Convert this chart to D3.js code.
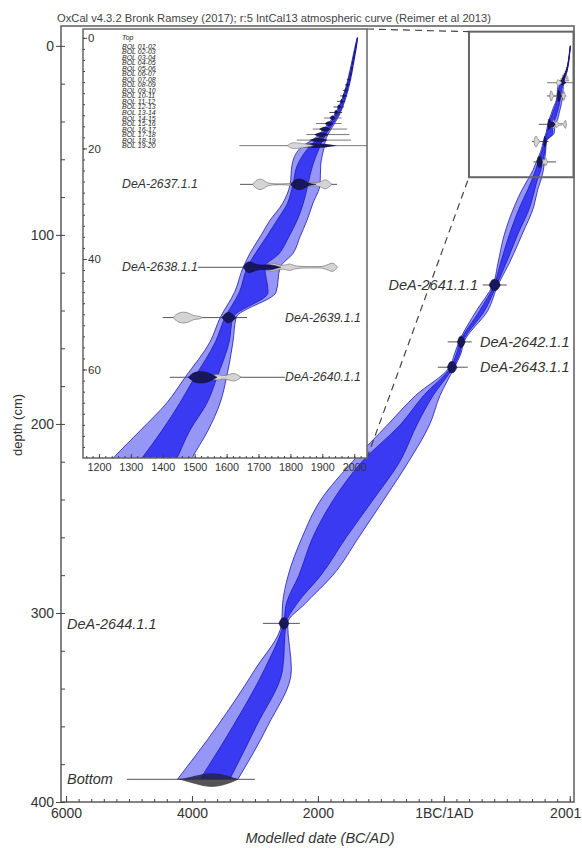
<!DOCTYPE html>
<html><head><meta charset="utf-8">
<script src="https://cdn.jsdelivr.net/npm/d3@7"></script>
<style>body{margin:0;background:#fff}svg{display:block}text{font-family:"Liberation Sans",Arial,sans-serif}</style>
</head><body><svg id="c" width="582" height="848"></svg>
<script>
// ---------------- DATA ----------------
const titleText = "OxCal v4.3.2 Bronk Ramsey (2017); r:5 IntCal13 atmospheric curve (Reimer et al 2013)";
const xAxisTitle = "Modelled date (BC/AD)";
const yAxisTitle = "depth (cm)";

// main axes
const mainXTicks = [-5999, -3999, -1999, 1, 2001];
const mainXTickLabels = ["6000", "4000", "2000", "1BC/1AD", "2001"];
const mainYTicks = [0, 100, 200, 300, 400];
// inset axes
const insetXTicks = [1200, 1300, 1400, 1500, 1600, 1700, 1800, 1900, 2000];
const insetYTicks = [0, 20, 40, 60];

// age-depth model envelope (years AD, negative = BC)
const modelDepth = [0, 2, 5, 8, 10, 12, 14, 16, 18, 20, 23, 26.5, 30, 33, 36, 39, 41.5, 46, 50.6, 55, 61.4, 66, 71, 76, 85, 100, 115, 126.5, 140, 156.6, 163, 170, 185, 200, 220, 240, 260, 280, 295, 305.5, 330, 360, 388];
const model95Lo = [2009, 2001, 1990, 1978, 1968, 1955, 1937, 1912, 1880, 1830, 1805, 1799, 1775, 1736, 1705, 1673, 1652, 1625, 1580, 1548, 1470, 1413, 1330, 1245, 1120, 960, 860, 780, 520, 240, 170, 90, -450, -880, -1450, -1950, -2250, -2470, -2560, -2575, -3000, -3600, -4230];
const model95Hi = [2011, 2006, 1997, 1987, 1978, 1967, 1953, 1933, 1913, 1905, 1895, 1893, 1870, 1852, 1830, 1808, 1768, 1755, 1630, 1620, 1600, 1580, 1542, 1492, 1430, 1240, 1040, 860, 700, 320, 270, 170, -60, -220, -560, -950, -1350, -1760, -2200, -2480, -2420, -2800, -3270];
const model68Lo = [2009.5, 2003, 1992, 1980, 1970, 1958, 1941, 1918, 1890, 1855, 1822, 1808, 1790, 1758, 1725, 1690, 1665, 1640, 1595, 1565, 1500, 1454, 1398, 1335, 1210, 1040, 900, 800, 570, 260, 200, 110, -320, -680, -1300, -1750, -2080, -2300, -2500, -2545, -2850, -3350, -3870];
const model68Hi = [2010.5, 2005, 1995, 1985, 1976, 1965, 1950, 1928, 1906, 1890, 1870, 1855, 1840, 1821, 1795, 1765, 1720, 1730, 1620, 1608, 1570, 1539, 1485, 1445, 1370, 1170, 990, 840, 650, 300, 250, 150, -170, -420, -700, -1120, -1550, -1950, -2330, -2505, -2560, -2980, -3400];

// 210Pb layers
const bolLabels = ["Top", "BOL 01-02", "BOL 02-03", "BOL 03-04", "BOL 04-05", "BOL 05-06", "BOL 06-07", "BOL 07-08", "BOL 08-09", "BOL 09-10", "BOL 10-11", "BOL 11-12", "BOL 12-13", "BOL 13-14", "BOL 14-15", "BOL 15-16", "BOL 16-17", "BOL 17-18", "BOL 18-19", "BOL 19-20"];
const bolDepth = [0, 1.5, 2.5, 3.5, 4.5, 5.5, 6.5, 7.5, 8.5, 9.5, 10.5, 11.5, 12.5, 13.5, 14.5, 15.5, 16.5, 17.5, 18.5, 19.5];
const bolMedian = [2010, 2005, 2002, 1999, 1996, 1993, 1989, 1984, 1979, 1973, 1967, 1960, 1952, 1943, 1932, 1921, 1908, 1897, 1888, 1876];
const bolLo = [2010, 2003, 2000, 1996, 1992, 1987, 1983, 1977, 1971, 1964, 1956, 1946, 1935, 1922, 1905, 1880, 1870, 1850, 1820, 1640];
const bolHi = [2010, 2008, 2005, 2002, 1999, 1996, 1993, 1990, 1986, 1982, 1978, 1972, 1968, 1962, 1960, 1960, 1978, 1985, 1990, 2060];

// radiocarbon dates
const dateNames = ["DeA-2637.1.1", "DeA-2638.1.1", "DeA-2639.1.1", "DeA-2640.1.1", "DeA-2641.1.1", "DeA-2642.1.1", "DeA-2643.1.1", "DeA-2644.1.1", "Bottom"];
const dateDepths = [26.5, 41.5, 50.6, 61.4, 126.5, 156.6, 170, 305.5, 388];
const dateLineLo = [1642, 1510, 1400, 1422, 619, 63, -95, -2873, -5030];
const dateLineHi = [1946, 1946, 1664, 1783, 1000, 444, 381, -2286, -3000];
// unmodelled calibrated likelihoods [year, relative probability]
const dateLikelihood = [
  [[1682,0],[1690,0.6],[1705,1],[1720,0.6],[1730,0.05],[1790,0.05],[1815,0.3],[1835,0.15],[1858,0.45],[1872,0.15],[1895,0.35],[1908,0.9],[1920,0.5],[1930,0]],
  [[1712,0],[1728,0.5],[1745,0.8],[1765,0.3],[1785,0.3],[1798,0.7],[1810,0.2],[1850,0.1],[1870,0.15],[1900,0.05],[1920,0.5],[1934,0.85],[1948,0]],
  [[1432,0],[1445,0.7],[1465,1],[1485,0.7],[1495,0.3],[1515,0.25],[1525,0]],
  [[1545,0],[1558,0.4],[1575,0.5],[1590,0.2],[1605,0.4],[1626,0.8],[1645,0]],
  [], [], [], [], []
];
// modelled posteriors [year, relative probability]
const dateModelled = [
  [[1800,0],[1810,0.6],[1825,1],[1840,0.8],[1852,0.3],[1866,0.1],[1880,0]],
  [[1652,0],[1662,0.8],[1673,1],[1690,0.5],[1712,0.3],[1732,0.5],[1750,0.3],[1770,0]],
  [[1585,0],[1596,0.7],[1606,1],[1618,0.6],[1630,0]],
  [[1480,0],[1495,0.8],[1515,1],[1535,0.9],[1555,0.5],[1570,0]],
  [[720,0],[760,0.9],[810,1],[860,0.8],[900,0]],
  [[215,0],[245,0.9],[275,1],[310,0.8],[340,0]],
  [[55,0],[90,0.9],[130,1],[175,0.8],[210,0]],
  [[-2620,0],[-2580,0.9],[-2530,1],[-2490,0.8],[-2460,0]],
  [[-4190,0],[-3950,0.5],[-3700,1],[-3450,0.6],[-3270,0]]
];
// zoomed region marked on the main plot
const zoomBoxYears = [400, 2060];
const zoomBoxDepths = [-7.5, 69.5];

// ---------------- DRAWING ----------------
const FONT = '"Liberation Sans",Arial,sans-serif';
const svg = d3.select("#c");
svg.append("rect").attr("width", 582).attr("height", 848).attr("fill", "#fff");

const xM = d3.scaleLinear().domain([-6079, 2068]).range([61, 574]);
const yM = d3.scaleLinear().domain([-10.5, 400]).range([26, 802]);
const xI = d3.scaleLinear().domain([1150, 2040]).range([83, 367]);
const yI = d3.scaleLinear().domain([-1.6, 76]).range([29, 458]);
const hM = d3.scaleLinear().domain([0, 1]).range([0, 6]);
const hI = d3.scaleLinear().domain([0, 1]).range([0, 6]);

const defs = svg.append("defs");
defs.append("clipPath").attr("id", "clipM").append("rect")
  .attr("x", xM.range()[0]).attr("y", yM.range()[0])
  .attr("width", xM.range()[1] - xM.range()[0]).attr("height", yM.range()[1] - yM.range()[0]);
defs.append("clipPath").attr("id", "clipI").append("rect")
  .attr("x", xI.range()[0]).attr("y", yI.range()[0])
  .attr("width", xI.range()[1] - xI.range()[0]).attr("height", yI.range()[1] - yI.range()[0]);

const rows = modelDepth.map((d, i) => ({d, lo95: model95Lo[i], hi95: model95Hi[i], lo68: model68Lo[i], hi68: model68Hi[i]}));

const COL_OUT = "#9696f6", COL_IN = "#3a3af2", COL_EDGE = "#1c1cb4", COL_DARK = "#17175a";

function drawContent(g, x, y, h) {
  const outer = d3.area().curve(d3.curveMonotoneY).y(r => y(r.d)).x0(r => x(r.lo95)).x1(r => x(r.hi95));
  const inner = d3.area().curve(d3.curveMonotoneY).y(r => y(r.d)).x0(r => x(r.lo68)).x1(r => x(r.hi68));
  g.append("path").datum(rows).attr("d", outer).attr("fill", COL_OUT).attr("stroke", COL_EDGE).attr("stroke-width", 0.8);
  g.append("path").datum(rows).attr("d", inner).attr("fill", COL_IN).attr("stroke", COL_EDGE).attr("stroke-width", 0.8);

  // BOL layers
  bolDepth.forEach((d, i) => {
    if (i === 0) return;
    g.append("line").attr("x1", x(bolLo[i])).attr("x2", x(bolHi[i])).attr("y1", y(d)).attr("y2", y(d))
      .attr("stroke", i > 13 ? "#555" : "#222").attr("stroke-width", 0.8);
    const w = Math.max(2, (bolHi[i] - bolLo[i]) / 6);
    const pts = [[bolMedian[i] - w, 0], [bolMedian[i], 1], [bolMedian[i] + w, 0]];
    g.append("path").datum(pts)
      .attr("d", d3.area().curve(d3.curveBasis).x(p => x(p[0])).y0(p => y(d) - h(p[1]) * 0.6).y1(p => y(d) + h(p[1]) * 0.6))
      .attr("fill", COL_DARK);
  });
  const bolGray = [[1790, 0], [1805, 0.6], [1830, 0.4], [1860, 0.2], [1872, 0]];
  g.append("path").datum(bolGray)
    .attr("d", d3.area().curve(d3.curveBasis).x(p => x(p[0])).y0(p => y(19.5) - h(p[1])).y1(p => y(19.5) + h(p[1])))
    .attr("fill", "#d6d6d6").attr("stroke", "#777").attr("stroke-width", 0.6);

  // radiocarbon dates
  dateNames.forEach((n, i) => {
    const yy = y(dateDepths[i]);
    g.append("line").attr("x1", x(dateLineLo[i])).attr("x2", x(dateLineHi[i])).attr("y1", yy).attr("y2", yy)
      .attr("stroke", "#555").attr("stroke-width", 1);
    if (n === "Bottom") {
      g.append("path").datum(dateModelled[i])
        .attr("d", d3.area().curve(d3.curveBasis).x(p => x(p[0])).y0(yy).y1(p => yy + h(p[1]) * 1.4))
        .attr("fill", "#555").attr("stroke", "#333").attr("stroke-width", 0.6);
      g.append("path").datum(dateModelled[i])
        .attr("d", d3.area().curve(d3.curveBasis).x(p => x(p[0])).y0(p => yy - h(p[1]) * 1.2).y1(yy))
        .attr("fill", "#222250").attr("opacity", 0.85);
      return;
    }
    if (dateLikelihood[i].length) {
      g.append("path").datum(dateLikelihood[i])
        .attr("d", d3.area().curve(d3.curveBasis).x(p => x(p[0])).y0(p => yy - h(p[1])).y1(p => yy + h(p[1])))
        .attr("fill", "#d4d4d4").attr("stroke", "#777").attr("stroke-width", 0.7);
    }
    g.append("path").datum(dateModelled[i])
      .attr("d", d3.area().curve(d3.curveBasis).x(p => x(p[0])).y0(p => yy - h(p[1])).y1(p => yy + h(p[1])))
      .attr("fill", COL_DARK).attr("stroke", "#0d0d3a").attr("stroke-width", 0.5);
  });
}

// ---- main plot ----
const gM = svg.append("g").attr("clip-path", "url(#clipM)");
drawContent(gM, xM, yM, hM);

svg.append("rect")
  .attr("x", xM(zoomBoxYears[0])).attr("y", yM(zoomBoxDepths[0]))
  .attr("width", xM(zoomBoxYears[1]) - xM(zoomBoxYears[0]))
  .attr("height", yM(zoomBoxDepths[1]) - yM(zoomBoxDepths[0]))
  .attr("fill", "none").attr("stroke", "#666").attr("stroke-width", 2);

svg.append("line").attr("x1", xI.range()[1]).attr("y1", yI.range()[0]).attr("x2", xM(zoomBoxYears[0])).attr("y2", yM(zoomBoxDepths[0]))
  .attr("stroke", "#444").attr("stroke-width", 1.2).attr("stroke-dasharray", "7,5");
svg.append("line").attr("x1", xI.range()[1]).attr("y1", yI.range()[1]).attr("x2", xM(zoomBoxYears[0])).attr("y2", yM(zoomBoxDepths[1]))
  .attr("stroke", "#444").attr("stroke-width", 1.2).attr("stroke-dasharray", "7,5");

svg.append("rect").attr("x", xM.range()[0]).attr("y", yM.range()[0])
  .attr("width", xM.range()[1] - xM.range()[0]).attr("height", yM.range()[1] - yM.range()[0])
  .attr("fill", "none").attr("stroke", "#666").attr("stroke-width", 1.6);

// main y axis
const gyM = svg.append("g").attr("transform", `translate(${xM.range()[0]},0)`);
gyM.call(d3.axisLeft(yM).tickValues(mainYTicks).tickSize(5).tickPadding(2).tickFormat(d3.format("d")));
gyM.append("g").call(d3.axisRight(yM).tickValues(d3.range(0, 401, 20)).tickSize(4).tickFormat(""));
gyM.selectAll(".domain").remove();
gyM.selectAll("line").attr("stroke", "#444");
gyM.selectAll("text").attr("font-size", 14).attr("fill", "#333").attr("font-family", FONT);

// main x axis
const gxM = svg.append("g").attr("transform", `translate(0,${yM.range()[1]})`);
gxM.call(d3.axisBottom(xM).tickValues(mainXTicks).tickSizeInner(-6).tickSizeOuter(0).tickPadding(6)
  .tickFormat((d, i) => mainXTickLabels[i]));
gxM.append("g").call(d3.axisBottom(xM).tickValues(d3.range(-5999, 2002, 200)).tickSizeInner(-3).tickSizeOuter(0).tickFormat(""));
gxM.selectAll(".domain").remove();
gxM.selectAll("line").attr("stroke", "#444");
gxM.selectAll("text").attr("font-size", 14).attr("fill", "#333").attr("font-family", FONT);
gxM.selectAll(".tick text").filter(d => d === mainXTicks[mainXTicks.length - 1])
  .attr("text-anchor", "end").attr("dx", 11);

// axis titles
svg.append("text").attr("x", 320).attr("y", 843).attr("text-anchor", "middle")
  .attr("font-size", 14.5).attr("font-style", "italic").attr("fill", "#333").text(xAxisTitle);
svg.append("text").attr("transform", "translate(22,425) rotate(-90)").attr("text-anchor", "middle")
  .attr("font-size", 13).attr("fill", "#333").text(yAxisTitle);
svg.append("text").attr("x", 57).attr("y", 22).attr("font-size", 11.2).attr("fill", "#444").text(titleText);

// main labels
const mainLabelStyle = s => s.attr("font-size", 14.5).attr("font-style", "italic").attr("fill", "#333");
svg.append("text").attr("x", 478).attr("y", yM(dateDepths[4]) + 5).attr("text-anchor", "end").call(mainLabelStyle).text(dateNames[4]);
svg.append("text").attr("x", 480).attr("y", yM(dateDepths[5]) + 5).call(mainLabelStyle).text(dateNames[5]);
svg.append("text").attr("x", 480).attr("y", yM(dateDepths[6]) + 5).call(mainLabelStyle).text(dateNames[6]);
svg.append("text").attr("x", 67).attr("y", yM(dateDepths[7]) + 6).call(mainLabelStyle).text(dateNames[7]);
svg.append("text").attr("x", 67).attr("y", yM(dateDepths[8]) + 5).call(mainLabelStyle).text(dateNames[8]);

// ---- inset ----
svg.append("rect").attr("x", xI.range()[0]).attr("y", yI.range()[0])
  .attr("width", xI.range()[1] - xI.range()[0]).attr("height", yI.range()[1] - yI.range()[0])
  .attr("fill", "#fff");
const gI = svg.append("g").attr("clip-path", "url(#clipI)");
drawContent(gI, xI, yI, hI);

bolLabels.forEach((t, i) => {
  svg.append("text").attr("x", 122).attr("y", yI(bolDepth[i]) + 2.5)
    .attr("font-size", 7).attr("font-style", "italic").attr("fill", "#222").text(t);
});
const insetLabelStyle = s => s.attr("font-size", 12.3).attr("font-style", "italic").attr("fill", "#333");
svg.append("text").attr("x", 122).attr("y", yI(dateDepths[0]) + 4).call(insetLabelStyle).text(dateNames[0]);
svg.append("text").attr("x", 122).attr("y", yI(dateDepths[1]) + 4).call(insetLabelStyle).text(dateNames[1]);
svg.append("text").attr("x", 285).attr("y", yI(dateDepths[2]) + 4).call(insetLabelStyle).text(dateNames[2]);
svg.append("text").attr("x", 285).attr("y", yI(dateDepths[3]) + 4).call(insetLabelStyle).text(dateNames[3]);

svg.append("rect").attr("x", xI.range()[0]).attr("y", yI.range()[0])
  .attr("width", xI.range()[1] - xI.range()[0]).attr("height", yI.range()[1] - yI.range()[0])
  .attr("fill", "none").attr("stroke", "#666").attr("stroke-width", 1.5);
const gyI = svg.append("g").attr("transform", `translate(${xI.range()[0]},0)`);
gyI.call(d3.axisRight(yI).tickValues(insetYTicks).tickSize(4).tickPadding(1).tickFormat(d3.format("d")));
gyI.append("g").call(d3.axisRight(yI).tickValues(d3.range(0, 76, 2)).tickSize(2).tickFormat(""));
gyI.selectAll(".domain").remove();
gyI.selectAll("line").attr("stroke", "#444");
gyI.selectAll("text").attr("font-size", 11.5).attr("fill", "#333").attr("font-family", FONT);

const gxI = svg.append("g").attr("transform", `translate(0,${yI.range()[1]})`);
gxI.call(d3.axisBottom(xI).tickValues(insetXTicks).tickSizeInner(-4).tickSizeOuter(0).tickPadding(5).tickFormat(d3.format("d")));
gxI.append("g").call(d3.axisBottom(xI).tickValues(d3.range(1160, 2040, 20)).tickSizeInner(-2).tickSizeOuter(0).tickFormat(""));
gxI.selectAll(".domain").remove();
gxI.selectAll("line").attr("stroke", "#444");
gxI.selectAll("text").attr("font-size", 10.8).attr("fill", "#333").attr("font-family", FONT);
</script></body></html>
